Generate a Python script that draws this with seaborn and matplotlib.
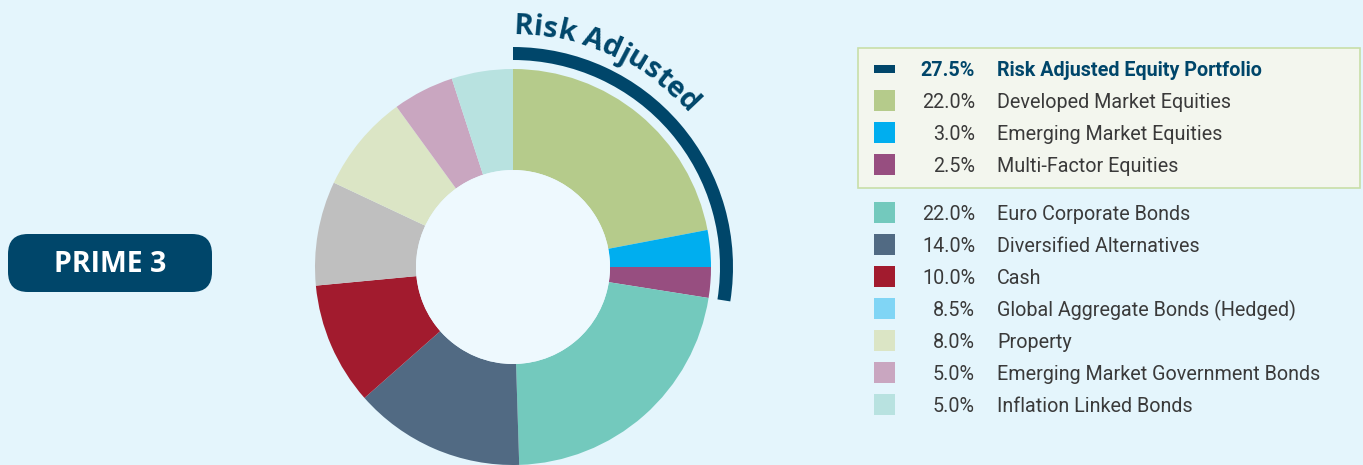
import numpy as np
import matplotlib
matplotlib.use("Agg")
import matplotlib.pyplot as plt
import seaborn as sns
from matplotlib.patches import Wedge, Circle, FancyBboxPatch, Rectangle
from matplotlib.textpath import TextToPath
from matplotlib.font_manager import FontProperties

# ---------------- data ----------------
categories = ["Developed Market Equities", "Emerging Market Equities", "Multi-Factor Equities",
              "Euro Corporate Bonds", "Diversified Alternatives", "Cash",
              "Global Aggregate Bonds (Hedged)", "Property",
              "Emerging Market Government Bonds", "Inflation Linked Bonds"]
weights = [22.0, 3.0, 2.5, 22.0, 14.0, 10.0, 8.5, 8.0, 5.0, 5.0]
slice_colors = ["#b5cb8b", "#00aeef", "#974e80", "#73c9bd", "#516a83", "#a21b2e",
                "#bfbfbf", "#dbe5c5", "#c9a6c0", "#b8e2e0"]
legend_colors = ["#b5cb8b", "#00aeef", "#974e80", "#73c9bd", "#516a83", "#a21b2e",
                 "#80d5f5", "#dbe5c5", "#c9a6c0", "#b8e2e0"]
group_label = "Risk Adjusted Equity Portfolio"
group_size = 3
arc_title = "Risk Adjusted"
badge_text = "PRIME 3"

# ---------------- style ----------------
BG = "#e4f5fc"
INNER = "#eef9fe"
NAVY = "#00466a"
TXT = "#3a3a3a"

sns.set_theme(style="white")
plt.rcParams['font.family'] = ['Roboto', 'DejaVu Sans']

W, H = 1363, 465
DPI = 100
fig = plt.figure(figsize=(W / DPI, H / DPI), dpi=DPI)
fig.patch.set_facecolor(BG)
ax = fig.add_axes([0, 0, 1, 1])
ax.set_facecolor(BG)


def Y(y):
    return H - y


# ---------------- donut ----------------
cx, cy = 513, Y(267)
R, R_IN = 198, 97
ax.pie(weights, colors=slice_colors, startangle=90, counterclock=False,
       center=(cx, cy), radius=R,
       wedgeprops=dict(width=R - R_IN, edgecolor='none', linewidth=0))
ax.add_patch(Circle((cx, cy), R_IN, facecolor=INNER, edgecolor='none', zorder=3))

# group arc
group_total = sum(weights[:group_size])
theta_end = 90 - 360 * group_total / 100.0
ax.add_patch(Wedge((cx, cy), 220, theta_end, 90, width=13, facecolor=NAVY,
                   edgecolor='none', zorder=3))

# curved title
fp = FontProperties(family='Open Sans', weight='bold', size=21)
ttp = TextToPath()


def tw(s):
    if not s:
        return 0.0
    w, h, d = ttp.get_text_width_height_descent(s.replace(' ', '\u00a0'), fp, ismath=False)
    return w * DPI / 72.0


r_text = 233
start = np.deg2rad(89.8)
for i, ch in enumerate(arc_title):
    if ch == ' ':
        continue
    c = tw(arc_title[:i]) + tw(ch) / 2
    ang = start - c / r_text
    x = cx + r_text * np.cos(ang)
    y = cy + r_text * np.sin(ang)
    ax.text(x, y, ch, fontproperties=fp, rotation=np.rad2deg(ang) - 90,
            rotation_mode='anchor', ha='center', va='baseline', color=NAVY, zorder=4)

# ---------------- badge ----------------
ax.add_patch(FancyBboxPatch((8, Y(292)), 204, 58,
                            boxstyle="round,pad=0,rounding_size=20",
                            facecolor=NAVY, edgecolor='none', zorder=3))
ax.text(110, Y(265), badge_text, color='white', fontsize=20.5, fontweight='bold',
        ha='center', va='center', family=['Open Sans', 'DejaVu Sans'], zorder=4)

# ---------------- legend ----------------
ax.add_patch(Rectangle((858, Y(188)), 502, 140, facecolor="#f3f6ee",
                       edgecolor="#c8dfa8", linewidth=1.2, zorder=2))
SW_X, SW_W = 874, 21
PCT_X, LAB_X = 975, 997
FS = 14.2
DY = 1.5

# header row
ax.add_patch(Rectangle((SW_X, Y(69) - 4), SW_W, 8, facecolor=NAVY, edgecolor='none', zorder=3))
ax.text(PCT_X, Y(69) - DY, f"{group_total:.1f}%", ha='right', va='center', fontsize=FS,
        fontweight='bold', color=NAVY, zorder=4)
ax.text(LAB_X, Y(69) - DY, group_label, ha='left', va='center', fontsize=FS,
        fontweight='bold', color=NAVY, zorder=4)

row_y = [101, 133, 165, 213, 245, 277, 309, 341, 373, 405]
for yy, lab, val, col in zip(row_y, categories, weights, legend_colors):
    ax.add_patch(Rectangle((SW_X, Y(yy) - 10.5), SW_W, 21, facecolor=col,
                           edgecolor='none', zorder=3))
    ax.text(PCT_X, Y(yy) - DY, f"{val:.1f}%", ha='right', va='center', fontsize=FS,
            color=TXT, zorder=4)
    ax.text(LAB_X, Y(yy) - DY, lab, ha='left', va='center', fontsize=FS,
            color=TXT, zorder=4)

ax.set_xlim(0, W)
ax.set_ylim(0, H)
ax.set_aspect('equal')
ax.axis('off')

fig.savefig("out.png", dpi=DPI, facecolor=BG)
